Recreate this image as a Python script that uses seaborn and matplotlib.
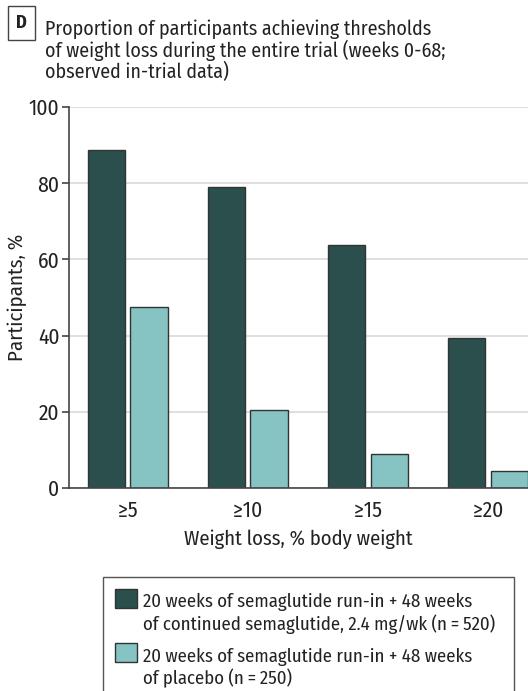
import matplotlib
matplotlib.use("Agg")
import matplotlib.pyplot as plt
import matplotlib.patches as mpatches
from matplotlib.legend_handler import HandlerPatch
import seaborn as sns
import pandas as pd

# Thresholds of weight loss and share of participants reaching them
thresholds = ["≥5", "≥10", "≥15", "≥20"]
semaglutide_pct = [88.8, 79.0, 63.7, 39.5]
placebo_pct = [47.6, 20.4, 9.0, 4.4]

group_labels = [
    "20 weeks of semaglutide run-in + 48 weeks\n"
    "of continued semaglutide, 2.4 mg/wk (n\u2009=\u2009520)",
    "20 weeks of semaglutide run-in + 48 weeks\nof placebo (n\u2009=\u2009250)",
]
yticks = [0, 20, 40, 60, 80, 100]
colors = ["#2a4f4c", "#86c3c3"]

df = pd.DataFrame({
    "threshold": thresholds * 2,
    "pct": semaglutide_pct + placebo_pct,
    "group": [group_labels[0]] * 4 + [group_labels[1]] * 4,
})

sns.set_theme(style="white")
FONT = ["Fira Sans Condensed", "DejaVu Sans"]
plt.rcParams["font.family"] = FONT
TXT = "#222222"

fig = plt.figure(figsize=(5.28, 6.91), dpi=100)
ax = fig.add_axes([69 / 528, 1 - 488 / 691, 1 - 69 / 528, (488 - 107) / 691])

sns.barplot(
    data=df, x="threshold", y="pct", hue="group",
    palette=colors, saturation=1, width=0.71, gap=0.12,
    edgecolor="#333333", linewidth=1.0, legend=False, ax=ax,
)

ax.set_xlim(-0.49, 3.333)
ax.set_ylim(0, 100)
ax.set_yticks(yticks)
ax.yaxis.grid(True, color="#d9d9d9", linewidth=1.2)
ax.set_axisbelow(True)
for side in ("top", "right"):
    ax.spines[side].set_visible(False)
for side in ("left", "bottom"):
    ax.spines[side].set_color("#444444")
    ax.spines[side].set_linewidth(1.2)
ax.tick_params(axis="y", length=5, width=1.2, color="#444444", pad=2,
               labelsize=15.5, labelcolor=TXT, left=True)
ax.tick_params(axis="x", length=0, pad=9, labelsize=15.5, labelcolor=TXT)
ax.set_ylabel("Participants, %", fontsize=15, color=TXT, labelpad=1)
ax.set_xlabel("Weight loss, % body weight", fontsize=14.8, color=TXT, labelpad=5)

# Panel letter and heading
fig.text(21.5 / 528, 1 - 23 / 691, "D", fontsize=13, fontweight="bold", color=TXT,
         ha="center", va="center",
         bbox=dict(boxstyle="square,pad=0.45", facecolor="white",
                   edgecolor="#444444", linewidth=1.0))
fig.text(45 / 528, 1 - 19 / 691,
         "Proportion of participants achieving thresholds\n"
         "of weight loss during the entire trial (weeks 0-68;\n"
         "observed in-trial data)",
         fontsize=14.3, color=TXT, ha="left", va="top", linespacing=1.08)


# Legend swatches sit beside the first line of each two-line label
def top_swatch(legend, orig_handle, xdescent, ydescent, width, height, fontsize):
    return mpatches.Rectangle((-xdescent, -ydescent + 0.83 * fontsize), width, height)


handles = [mpatches.Patch(facecolor=c, edgecolor="#333333", linewidth=1.0)
           for c in colors]
fig.legend(handles, group_labels, loc="upper left",
           bbox_to_anchor=(115 / 528, 1 - 593 / 691), frameon=False,
           fontsize=13.5, handlelength=1.17, handleheight=1.17, handletextpad=0.33,
           labelspacing=0.72, borderaxespad=0, borderpad=0, labelcolor=TXT,
           handler_map={mpatches.Patch: HandlerPatch(patch_func=top_swatch)})
fig.patches.append(mpatches.Rectangle(
    (103 / 528, -0.05), (514 - 103) / 528, (1 - 577 / 691) + 0.05,
    transform=fig.transFigure, facecolor="none", edgecolor="#555555",
    linewidth=1.0))

fig.savefig("out.png", dpi=100)
